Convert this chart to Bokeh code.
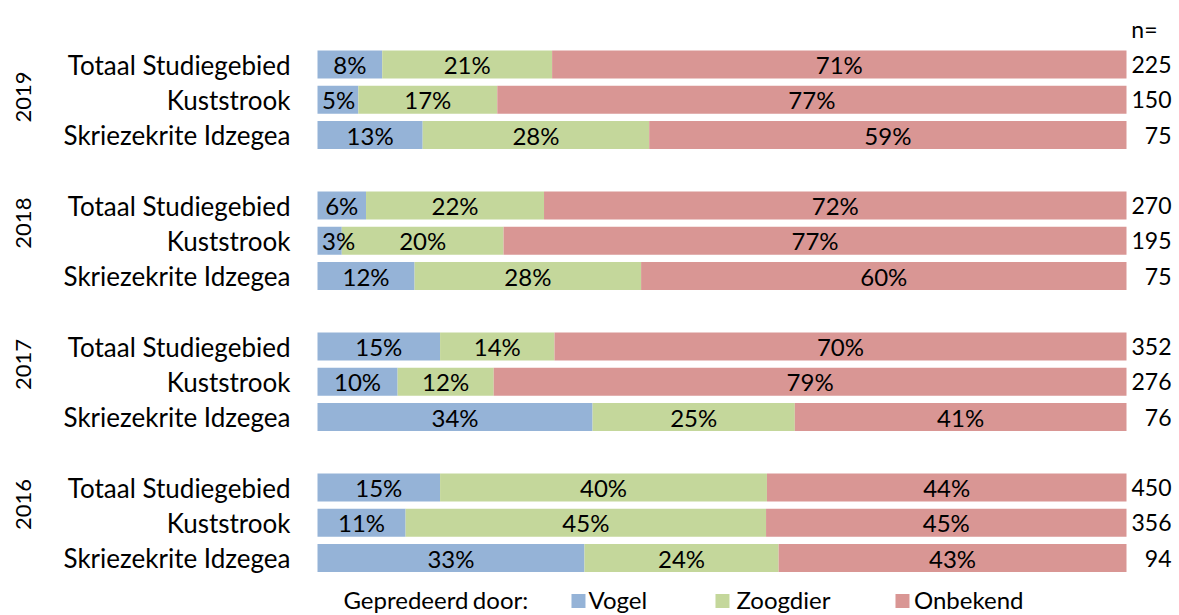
from bokeh.plotting import figure
from bokeh.models import Range1d, ColumnDataSource
from bokeh.core.properties import value
from bokeh.embed import file_html
from bokeh.resources import INLINE
import numpy as np

years = ["2019", "2018", "2017", "2016"]
regions = ["Totaal Studiegebied", "Kuststrook", "Skriezekrite Idzegea"]
vogel = [8, 5, 13, 6, 3, 12, 15, 10, 34, 15, 11, 33]
zoogdier = [21, 17, 28, 22, 20, 28, 14, 12, 25, 40, 45, 24]
onbekend = [71, 77, 59, 72, 77, 60, 70, 79, 41, 44, 45, 43]
n_values = [225, 150, 75, 270, 195, 75, 352, 276, 76, 450, 356, 94]
series = ["Vogel", "Zoogdier", "Onbekend"]
colors = ["#95B3D7", "#C4D79B", "#D99694"]

FONT = "Lato"
FS_CAT = "26px"
FS_PCT = "24px"
FS_NUM = "23px"
FS_YEAR = "22px"
FS_LEG = "24px"

# slot positions: 3 rows per year + one empty slot between years
slots = []
for g in range(len(years)):
    for r in range(len(regions)):
        slots.append(g * 4 + r)
slots = np.array(slots, dtype=float)

v = np.array(vogel, float)
z = np.array(zoogdier, float)
o = np.array(onbekend, float)
tot = v + z + o
vn, zn, on = v / tot * 100, z / tot * 100, o / tot * 100

W, H = 1179, 615
px_per_x = 8.09
x0_px = 317
px_per_y = 35.25
y0_px = 64

p = figure(width=W, height=H, output_backend="svg", toolbar_location=None,
           x_range=Range1d(-x0_px / px_per_x, (W - x0_px) / px_per_x),
           y_range=Range1d((H - y0_px) / px_per_y, -y0_px / px_per_y),
           min_border=0)
p.axis.visible = False
p.grid.visible = False
p.outline_line_color = None
p.background_fill_color = "white"
p.border_fill_color = "white"

lefts = [np.zeros_like(vn), vn, vn + zn]
widths = [vn, zn, on]
labels_pct = [vogel, zoogdier, onbekend]
sources = []
for k in range(3):
    mid = lefts[k] + widths[k] / 2
    if k == 0:
        mid = np.maximum(mid, 2.6)  # keep small labels inside the plot area
    src = ColumnDataSource(dict(y=slots, left=lefts[k], right=lefts[k] + widths[k],
                                mid=mid,
                                lab=[f"{x}%" for x in labels_pct[k]]))
    sources.append(src)
    p.hbar(y="y", left="left", right="right", height=0.79, source=src,
           fill_color=colors[k], line_color=None)
for src in sources:
    p.text(x="mid", y="y", text="lab", source=src, text_align="center",
           text_baseline="middle", text_font=value(FONT), text_font_size=FS_PCT,
           text_color="#000000")

# category labels
cat_src = ColumnDataSource(dict(y=slots, t=[regions[i % 3] for i in range(12)]))
p.text(x=-3.34, y="y", text="t", source=cat_src, text_align="right",
       text_baseline="middle", text_font=value(FONT), text_font_size=FS_CAT,
       text_color="#000000")

# year labels
yr_src = ColumnDataSource(dict(y=[0.92, 4.5, 8.51, 12.48], t=years))
p.text(x=-36.4, y="y", text="t", source=yr_src, angle=np.pi / 2,
       text_align="center", text_baseline="middle", text_font=value(FONT),
       text_font_size=FS_YEAR, text_color="#000000")

# n values
n_src = ColumnDataSource(dict(y=slots, t=[str(x) for x in n_values]))
p.text(x=105.56, y="y", text="t", source=n_src, text_align="right",
       text_baseline="middle", text_font=value(FONT), text_font_size=FS_NUM,
       text_color="#000000")
p.text(x=[100.6], y=[-1.02], text=["n="], text_align="left", text_baseline="middle",
       text_font=value(FONT), text_font_size=FS_NUM, text_color="#000000")

# legend
ly = 15.18
p.text(x=[3.21, 19.2], y=[ly, ly], text=["Gepredeerd", "door:"], text_align="left",
       text_baseline="middle", text_font=value(FONT), text_font_size=FS_LEG,
       text_color="#000000")
p.scatter(x=[32.26, 50.06, 72.31], y=[ly + 0.04] * 3, marker="square", size=14,
          fill_color=colors, line_color=None)
p.text(x=[33.5, 51.79, 73.73], y=[ly] * 3, text=series, text_align="left",
       text_baseline="middle", text_font=value(FONT), text_font_size=FS_LEG,
       text_color="#000000")

open("out.html", "w").write(file_html(p, INLINE))
